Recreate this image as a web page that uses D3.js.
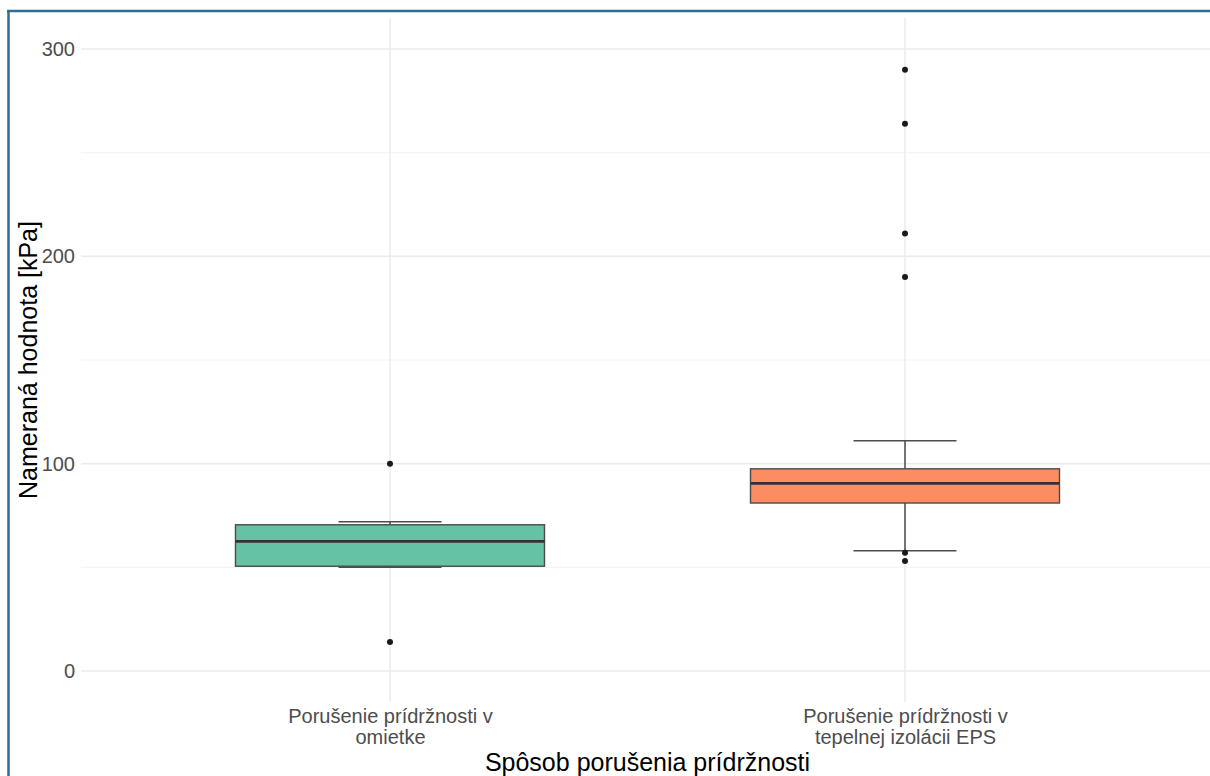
<!DOCTYPE html>
<html>
<head>
<meta charset="utf-8">
<script src="https://cdn.jsdelivr.net/npm/d3@7"></script>
<style>
  html, body { margin: 0; padding: 0; background: #fff; }
  svg { display: block; font-family: "Liberation Sans", Arial, sans-serif; }
</style>
</head>
<body>
<svg id="chart" width="1210" height="776"></svg>
<script>
// Boxplot summaries per failure type (kPa)
const categories = [
  "Porušenie prídržnosti v\nomietke",
  "Porušenie prídržnosti v\ntepelnej izolácii EPS"
];
const fills = ["#66c2a5", "#fc8d62"];
const q1 = [50.5, 81];
const median = [62.5, 90.5];
const q3 = [70.5, 97.5];
const whiskerLow = [50, 58];
const whiskerHigh = [72, 111];
const outliers = [
  [100, 14],
  [290, 264, 211, 190, 57, 53]
];
const yTicks = [0, 100, 200, 300];
const yMinor = [50, 150, 250];

const svg = d3.select("#chart");
const W = 1210, H = 776;
const panel = { left: 81, right: 1214, top: 18, bottom: 702 };

svg.append("rect").attr("width", W).attr("height", H).attr("fill", "#fff");

const x = d3.scalePoint().domain(categories)
  .range([panel.left, panel.right]).padding(0.6);
const step = x.step();
const y = d3.scaleLinear().domain([-15, 315]).range([panel.bottom, panel.top]);

// grid
const grid = svg.append("g");
grid.selectAll("line.minor").data(yMinor).join("line")
  .attr("x1", panel.left).attr("x2", panel.right)
  .attr("y1", d => y(d)).attr("y2", d => y(d))
  .attr("stroke", "#f2f2f2").attr("stroke-width", 1);
grid.selectAll("line.major").data(yTicks).join("line")
  .attr("x1", panel.left).attr("x2", panel.right)
  .attr("y1", d => y(d)).attr("y2", d => y(d))
  .attr("stroke", "#ebebeb").attr("stroke-width", 1.5);
grid.selectAll("line.vx").data(categories).join("line")
  .attr("x1", d => x(d)).attr("x2", d => x(d))
  .attr("y1", panel.top).attr("y2", panel.bottom)
  .attr("stroke", "#ebebeb").attr("stroke-width", 1.5);

// y axis
const yAxis = d3.axisLeft(y).tickValues(yTicks).tickSize(0).tickPadding(6);
const yg = svg.append("g").attr("transform", `translate(${panel.left},0)`).call(yAxis);
yg.select(".domain").remove();
yg.selectAll("text").attr("fill", "#4d4d4d").style("font-size", "20px")
  .attr("font-family", null);

// x axis labels (two lines each)
const xAxis = d3.axisBottom(x).tickSize(0).tickFormat("");
const xg = svg.append("g").attr("transform", `translate(0,${panel.bottom})`).call(xAxis);
xg.select(".domain").remove();
xg.selectAll(".tick").each(function(d) {
  const t = d3.select(this).append("text")
    .attr("fill", "#4d4d4d").attr("text-anchor", "middle")
    .style("font-size", "20px");
  d.split("\n").forEach((line, i) => {
    t.append("tspan").attr("x", 0).attr("y", 21 + i * 21).text(line);
  });
});

const boxes = categories.map((c, i) => ({
  c, i, q1: q1[i], med: median[i], q3: q3[i],
  lo: whiskerLow[i], hi: whiskerHigh[i], out: outliers[i], fill: fills[i]
}));

const g = svg.append("g");
const capW = step * 0.2, boxW = step * 0.6;

// error bar whiskers
boxes.forEach(b => {
  const cx = x(b.c);
  const eg = g.append("g").attr("stroke", "#4d4d4d").attr("stroke-width", 1.5);
  eg.append("line").attr("x1", cx).attr("x2", cx).attr("y1", y(b.lo)).attr("y2", y(b.hi));
  [b.lo, b.hi].forEach(v => {
    eg.append("line").attr("x1", cx - capW / 2).attr("x2", cx + capW / 2)
      .attr("y1", y(v)).attr("y2", y(v));
  });
});

// boxes
boxes.forEach(b => {
  const cx = x(b.c);
  g.append("rect")
    .attr("x", cx - boxW / 2).attr("width", boxW)
    .attr("y", y(b.q3)).attr("height", y(b.q1) - y(b.q3))
    .attr("fill", b.fill).attr("stroke", "#4a4a4a").attr("stroke-width", 1.4);
  g.append("line")
    .attr("x1", cx - boxW / 2).attr("x2", cx + boxW / 2)
    .attr("y1", y(b.med)).attr("y2", y(b.med))
    .attr("stroke", "#333").attr("stroke-width", 2.6);
  g.selectAll(null).data(b.out).join("circle")
    .attr("cx", cx).attr("cy", d => y(d)).attr("r", 3)
    .attr("fill", "#1a1a1a");
});

// axis titles
svg.append("text")
  .attr("x", (panel.left + panel.right) / 2).attr("y", 771)
  .attr("text-anchor", "middle").attr("fill", "#000")
  .style("font-size", "25px").text("Spôsob porušenia prídržnosti");
svg.append("text")
  .attr("transform", `translate(37,${(panel.top + panel.bottom) / 2}) rotate(-90)`)
  .attr("text-anchor", "middle").attr("fill", "#000")
  .style("font-size", "25px").text("Nameraná hodnota [kPa]");

// frame
svg.append("line").attr("x1", 7).attr("x2", W).attr("y1", 11).attr("y2", 11)
  .attr("stroke", "#2d6f92").attr("stroke-width", 2.5);
svg.append("line").attr("x1", 8.5).attr("x2", 8.5).attr("y1", 10).attr("y2", H)
  .attr("stroke", "#2d6f92").attr("stroke-width", 2.5);
</script>
</body>
</html>
